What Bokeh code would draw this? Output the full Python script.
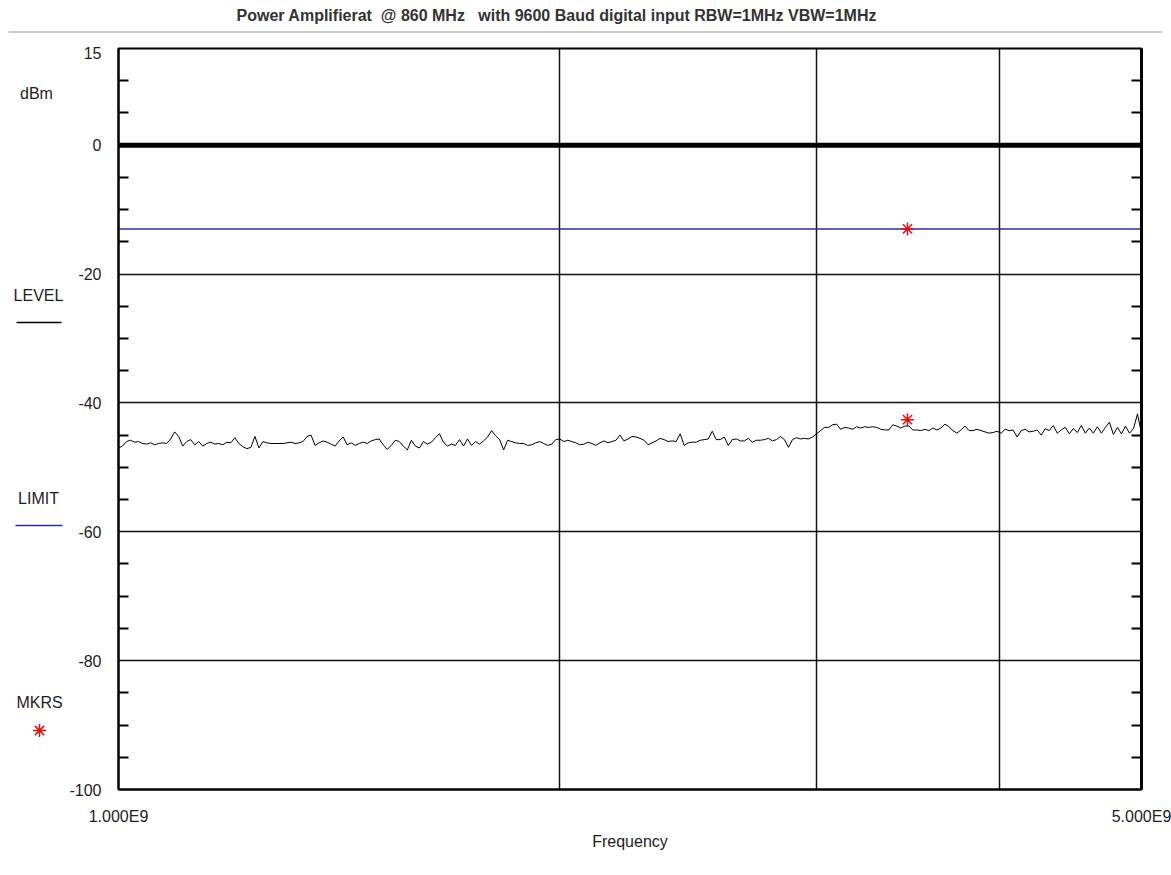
import numpy as np
from bokeh.plotting import figure
from bokeh.layouts import column, row
from bokeh.models import Range1d, FixedTicker, LinearAxis, Span
from bokeh.core.properties import value
from bokeh.embed import file_html
from bokeh.resources import INLINE

# ---------------- data ----------------
TITLE = ("Power Amplifierat\u00a0\u00a0@ 860 MHz\u00a0\u00a0\u00a0with 9600 Baud "
         "digital input RBW=1MHz VBW=1MHz")
X_LABEL = "Frequency"
F_START, F_STOP = 1.0e9, 5.0e9
X_GRID = [2.0e9, 3.0e9, 4.0e9]
X_TICK_LABELS = {1000000000: "1.000E9", 5000000000: "5.000E9"}
Y_MIN, Y_MAX = -100, 15
Y_TICKS = [15, 0, -20, -40, -60, -80, -100]
Y_GRID = [-20, -40, -60, -80]
Y_MINOR = [10, 5, -5, -10, -15, -25, -30, -35, -45, -50, -55,
           -65, -70, -75, -85, -90, -95]
LEGEND_TEXT = ["dBm", "LEVEL", "LIMIT", "MKRS"]

REF_LEVEL_DB = 0.0
LIMIT_DB = -13.0
MKR_FREQ = [3.46e9, 3.46e9]
MKR_DB = [-13.0, -42.6]

LEVEL_DB = [
    -47.0, -46.7, -46.0, -45.8, -46.1, -46.0, -46.3, -46.4, -46.2, -46.5,
    -46.3, -46.2, -46.3, -45.6, -44.5, -45.2, -46.7, -46.0, -45.7, -46.5,
    -46.0, -46.7, -46.3, -46.1, -46.4, -46.3, -46.5, -46.1, -46.2, -45.4,
    -46.3, -46.8, -47.1, -46.9, -45.2, -47.0, -46.0, -46.2, -46.3, -46.3,
    -46.3, -46.3, -46.2, -46.1, -46.3, -46.2, -46.0, -45.2, -45.0, -46.6,
    -46.2, -45.9, -46.1, -46.4, -46.7, -45.9, -45.3, -46.5, -46.2, -46.6,
    -46.3, -46.1, -46.3, -45.9, -45.7,
    -45.6, -46.5, -47.2, -46.6, -45.8, -46.0, -46.7, -47.3, -45.8, -46.7,
    -47.0, -46.0, -46.4, -46.1, -45.4, -44.8, -46.1, -46.7, -46.4, -46.6,
    -45.7, -46.7, -45.6, -46.6, -46.0, -46.4, -45.9, -45.3, -44.3, -45.1,
    -45.7, -47.3, -45.8, -46.0, -46.2, -46.3, -46.3, -46.6, -46.5, -46.2,
    -46.0, -46.3, -46.6, -46.4, -45.7, -45.6, -46.0, -45.8, -46.0, -46.2,
    -46.5, -46.4, -46.1, -46.3, -46.6, -46.2, -45.9, -46.2, -46.0, -45.8,
    -45.0, -45.9, -45.6,
    -45.2, -45.3, -45.5, -45.8, -46.5, -46.2, -45.9, -45.5, -45.7, -46.0,
    -45.9, -46.0, -44.8, -46.6, -46.2, -46.1, -46.1, -45.8, -45.7, -45.6,
    -44.4, -45.7, -45.7, -45.3, -46.6, -45.7, -45.6, -45.9, -45.9, -45.5,
    -46.1, -45.8, -45.8, -45.7, -45.5, -45.9, -45.7, -45.2, -45.7, -46.9,
    -45.7, -45.4, -45.6, -45.5, -45.6, -45.3, -44.8, -44.3, -43.8, -43.8,
    -43.4, -43.3, -44.1, -43.8, -43.9, -44.1, -43.7, -43.9, -43.7, -43.8,
    -43.7, -43.8, -44.1,
    -44.2, -44.2, -43.4, -43.6, -43.9, -43.6, -43.6, -44.2, -44.2, -44.3,
    -44.1, -44.3, -43.9, -44.2, -43.9, -43.3, -43.7, -44.3, -44.7, -44.2,
    -43.6, -44.3, -44.3, -44.1, -44.3, -44.5, -44.7, -44.6, -44.4, -44.7,
    -44.1, -44.3, -44.2, -45.3, -44.3, -44.1, -44.5, -44.4, -44.2, -45.0,
    -44.0, -44.3, -43.5, -44.7, -44.2, -43.8, -44.8, -44.0, -44.6, -43.5,
    -44.7, -43.9, -44.7, -43.7, -44.7, -43.8, -43.0, -44.9, -43.8, -44.8,
    -43.6, -44.7, -44.0, -41.7, -44.8,
]
# sweep grid of the trace samples
LEVEL_FREQ = np.geomspace(F_START, F_STOP, len(LEVEL_DB))

FONT = "Liberation Sans"
TEXT_COLOR = "#1e1e1e"
LIMIT_COLOR = "#2e2e9a"
MKR_COLOR = "#e41010"

# ---------------- title strip ----------------
t = figure(width=1171, height=46, x_range=Range1d(0, 1171), y_range=Range1d(46, 0),
           x_axis_location=None, y_axis_location=None, min_border=0,
           output_backend="svg", toolbar_location=None)
t.grid.visible = False
t.outline_line_color = None
t.text(x=[236], y=[15], text=[TITLE], text_font=value(FONT), text_font_size="16px",
       text_font_style="bold", text_color="#333333", text_align="left",
       text_baseline="middle")
t.line(x=[8, 1162], y=[31.5, 31.5], line_color="#cccccc", line_width=2)

# ---------------- left legend strip (frame aligned with main plot: y 48..789) ----
lf = figure(width=64, height=829, x_range=Range1d(0, 64), y_range=Range1d(789, 48),
            x_axis_location=None, y_axis_location=None, min_border=0,
            output_backend="svg", toolbar_location=None)
lf.grid.visible = False
lf.outline_line_color = None
lf.text(x=[36, 38, 38, 39], y=[93, 295, 498, 702], text=LEGEND_TEXT,
        text_font=value(FONT), text_font_size="16px", text_color=TEXT_COLOR,
        text_align="center", text_baseline="middle")
lf.line(x=[16, 61], y=[322, 322], line_color="black", line_width=1.5)
lf.line(x=[15, 62], y=[525, 525], line_color=LIMIT_COLOR, line_width=1.5)
lf.scatter(x=[39], y=[730], marker="asterisk", size=13, line_color=MKR_COLOR,
           line_width=1.5)

# ---------------- main plot ----------------
p = figure(width=1107, height=829, x_axis_type="log",
           x_range=Range1d(F_START, F_STOP), y_range=Range1d(Y_MIN, Y_MAX),
           min_border_left=54, min_border_right=30, min_border_top=2,
           min_border_bottom=86, output_backend="svg", toolbar_location=None)
p.background_fill_color = "white"
p.border_fill_color = "white"
p.outline_line_color = "black"
p.outline_line_width = 2

# x axis
xa = p.xaxis[0]
xa.ticker = FixedTicker(ticks=[F_START, F_STOP])
xa.major_label_overrides = X_TICK_LABELS
xa.major_tick_line_color = None
xa.minor_tick_line_color = None
xa.axis_line_color = "black"
xa.axis_line_width = 2
xa.major_label_standoff = 12
xa.major_label_text_font = FONT
xa.major_label_text_font_size = "16px"
xa.major_label_text_color = TEXT_COLOR
xa.axis_label = X_LABEL
xa.axis_label_text_font = FONT
xa.axis_label_text_font_size = "16px"
xa.axis_label_text_font_style = "normal"
xa.axis_label_text_color = TEXT_COLOR
xa.axis_label_standoff = 5

# y axis (left)
ya = p.yaxis[0]
ya.ticker = FixedTicker(ticks=Y_TICKS, minor_ticks=Y_MINOR)
ya.major_label_overrides = {v: str(v) for v in Y_TICKS}
ya.major_tick_line_color = None
ya.minor_tick_in = 10
ya.minor_tick_out = 0
ya.minor_tick_line_width = 2
ya.minor_tick_line_color = "black"
ya.axis_line_color = "black"
ya.axis_line_width = 2
ya.major_label_standoff = 11
ya.major_label_text_font = FONT
ya.major_label_text_font_size = "16px"
ya.major_label_text_color = TEXT_COLOR

# y axis (right) with inner minor ticks
ra = LinearAxis(ticker=FixedTicker(ticks=[], minor_ticks=Y_MINOR))
ra.major_tick_line_color = None
ra.major_label_standoff = 0
ra.minor_tick_in = 10
ra.minor_tick_out = 0
ra.minor_tick_line_width = 2
ra.minor_tick_line_color = "black"
ra.axis_line_color = "black"
ra.axis_line_width = 3
p.add_layout(ra, "right")

# grids
p.xgrid.ticker = FixedTicker(ticks=X_GRID)
p.ygrid.ticker = FixedTicker(ticks=Y_GRID)
for g in (p.xgrid[0], p.ygrid[0]):
    g.grid_line_color = "#111111"
    g.grid_line_width = 1.5
    g.grid_line_alpha = 1.0

# reference level & limit
p.add_layout(Span(location=REF_LEVEL_DB, dimension="width", line_color="black",
                  line_width=5, level="underlay"))
p.add_layout(Span(location=LIMIT_DB, dimension="width", line_color=LIMIT_COLOR,
                  line_width=1.5, level="underlay"))

# trace and markers
p.line(LEVEL_FREQ, LEVEL_DB, line_color="black", line_width=1)
p.scatter(MKR_FREQ, MKR_DB, marker="asterisk", size=13, line_color=MKR_COLOR,
          line_width=1.5)

layout = column(t, row(lf, p))
open("out.html", "w").write(file_html(layout, INLINE))
